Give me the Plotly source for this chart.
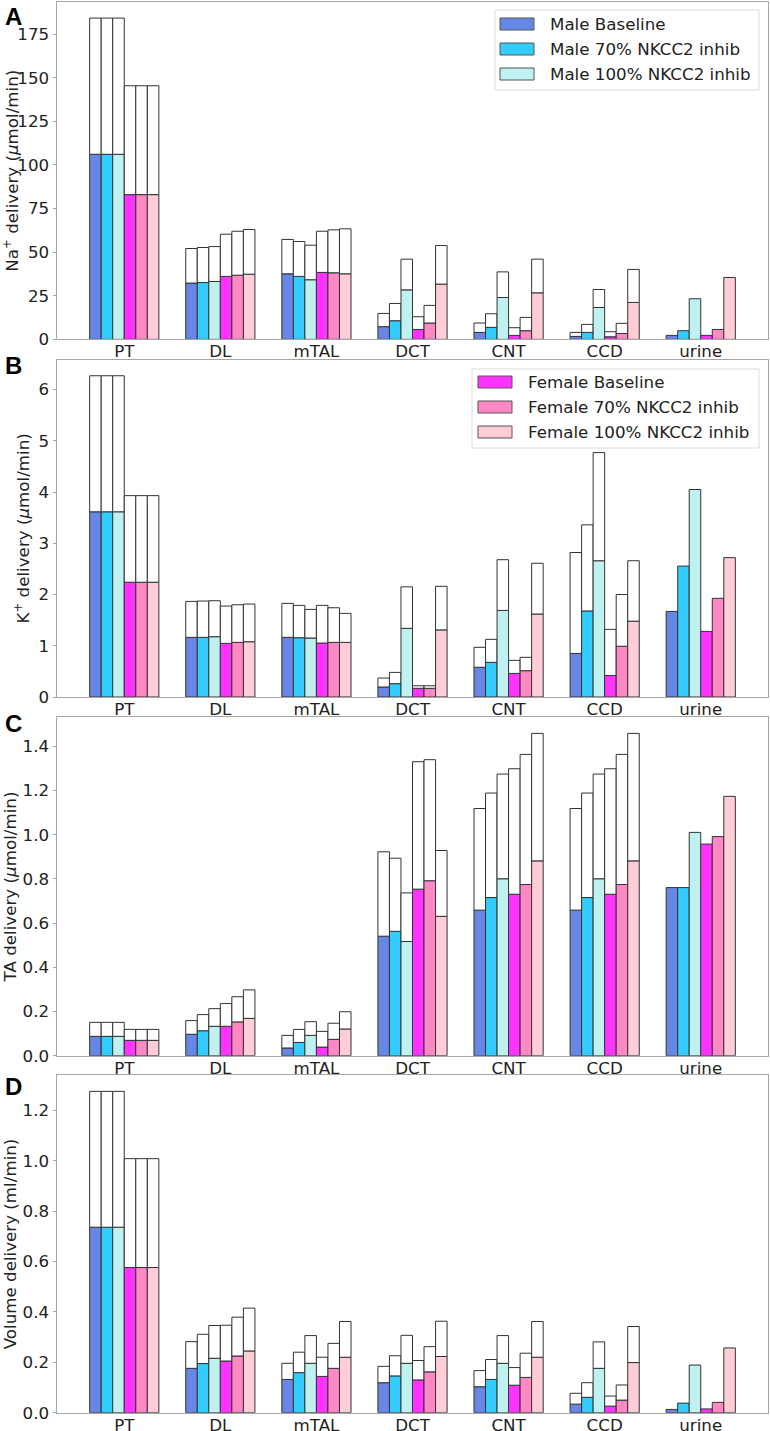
import plotly.graph_objects as go

segments = ["PT", "DL", "mTAL", "DCT", "CNT", "CCD", "urine"]
conditions = ["Male Baseline", "Male 70% NKCC2 inhib", "Male 100% NKCC2 inhib",
              "Female Baseline", "Female 70% NKCC2 inhib", "Female 100% NKCC2 inhib"]
colors = ["#6787E7", "#33CCFF", "#BFF1F1", "#FF33FF", "#FF87C3", "#FFCDD5"]

# Panel A: Na+ delivery (colored part, and total bar height)
na_part = [
    [106.1, 32.3, 37.6, 7.3, 4.0, 1.7, 2.3],
    [106.1, 32.6, 36.1, 10.7, 6.9, 4.0, 5.0],
    [106.1, 33.2, 34.2, 28.4, 24.0, 18.3, 23.3],
    [83.0, 36.1, 38.4, 5.7, 2.3, 1.5, 2.3],
    [83.0, 36.8, 38.2, 9.4, 5.0, 3.4, 5.7],
    [83.0, 37.4, 37.6, 31.7, 26.7, 21.2, 35.5],
]
na_total = [
    [184.2, 52.1, 57.3, 14.9, 9.4, 4.0, 2.3],
    [184.2, 52.7, 56.1, 20.6, 14.7, 8.6, 5.0],
    [184.2, 53.2, 54.0, 46.0, 38.7, 28.6, 23.3],
    [145.4, 60.3, 62.0, 13.0, 6.7, 4.4, 2.3],
    [145.4, 62.0, 62.8, 19.5, 12.6, 9.2, 5.7],
    [145.4, 63.0, 63.4, 53.8, 46.0, 40.1, 35.5],
]
# Panel B: K+ delivery
k_part = [
    [3.615, 1.164, 1.164, 0.195, 0.58, 0.85, 1.67],
    [3.615, 1.164, 1.157, 0.26, 0.676, 1.68, 2.555],
    [3.615, 1.177, 1.151, 1.34, 1.69, 2.66, 4.05],
    [2.24, 1.047, 1.053, 0.17, 0.46, 0.42, 1.28],
    [2.24, 1.066, 1.066, 0.17, 0.514, 0.99, 1.925],
    [2.24, 1.079, 1.066, 1.31, 1.62, 1.48, 2.72],
]
k_total = [
    [6.27, 1.866, 1.827, 0.37, 0.97, 2.82, 1.67],
    [6.27, 1.873, 1.788, 0.48, 1.125, 3.36, 2.555],
    [6.27, 1.879, 1.71, 2.15, 2.68, 4.77, 4.05],
    [3.93, 1.775, 1.788, 0.22, 0.715, 1.32, 1.28],
    [3.93, 1.80, 1.742, 0.22, 0.774, 2.00, 1.925],
    [3.93, 1.814, 1.632, 2.16, 2.61, 2.66, 2.72],
]
# Panel C: TA delivery
ta_part = [
    [0.0876, 0.097, 0.035, 0.541, 0.659, 0.659, 0.761],
    [0.0876, 0.113, 0.060, 0.563, 0.716, 0.716, 0.761],
    [0.0876, 0.133, 0.092, 0.517, 0.801, 0.801, 1.011],
    [0.0695, 0.133, 0.039, 0.754, 0.731, 0.731, 0.958],
    [0.0695, 0.153, 0.074, 0.792, 0.775, 0.775, 0.992],
    [0.0695, 0.169, 0.121, 0.631, 0.882, 0.882, 1.174],
]
ta_total = [
    [0.151, 0.159, 0.092, 0.923, 1.119, 1.119, 0.761],
    [0.151, 0.186, 0.119, 0.894, 1.189, 1.189, 0.761],
    [0.151, 0.213, 0.154, 0.737, 1.275, 1.275, 1.011],
    [0.119, 0.236, 0.110, 1.331, 1.299, 1.299, 0.958],
    [0.119, 0.267, 0.147, 1.340, 1.364, 1.364, 0.992],
    [0.119, 0.298, 0.199, 0.929, 1.459, 1.459, 1.174],
]
# Panel D: Volume delivery
vol_part = [
    [0.736, 0.176, 0.132, 0.119, 0.103, 0.034, 0.013],
    [0.736, 0.195, 0.159, 0.146, 0.132, 0.061, 0.038],
    [0.736, 0.216, 0.196, 0.196, 0.196, 0.176, 0.189],
    [0.576, 0.205, 0.144, 0.130, 0.109, 0.026, 0.015],
    [0.576, 0.225, 0.176, 0.162, 0.140, 0.050, 0.041],
    [0.576, 0.245, 0.220, 0.223, 0.220, 0.199, 0.257],
]
vol_total = [
    [1.275, 0.282, 0.196, 0.184, 0.167, 0.077, 0.013],
    [1.275, 0.311, 0.240, 0.226, 0.211, 0.119, 0.038],
    [1.275, 0.346, 0.306, 0.307, 0.306, 0.281, 0.189],
    [1.008, 0.347, 0.220, 0.207, 0.179, 0.066, 0.015],
    [1.008, 0.379, 0.275, 0.262, 0.236, 0.110, 0.041],
    [1.008, 0.415, 0.362, 0.363, 0.362, 0.342, 0.257],
]

panels = [
    dict(part=na_part, total=na_total, letter="A",
         title="Na<sup>+</sup> delivery (<i>μ</i>mol/min)", dtick=25, fmt="d"),
    dict(part=k_part, total=k_total, letter="B",
         title="K<sup>+</sup> delivery (<i>μ</i>mol/min)", dtick=1, fmt="d"),
    dict(part=ta_part, total=ta_total, letter="C",
         title="TA delivery (<i>μ</i>mol/min)", dtick=0.2, fmt=".1f"),
    dict(part=vol_part, total=vol_total, letter="D",
         title="Volume delivery (ml/min)", dtick=0.2, fmt=".1f"),
]

W, H = 770, 1431
ML, MR, MT, MB = 57, 2, 2, 18
plot_w = W - ML - MR
plot_h = H - MT - MB
# panel pixel extents (top, bottom) from top of image
extents = [(1.7, 339.4), (359.7, 697.0), (717.3, 1055.7), (1075.3, 1412.7)]
letter_tops = [7.0, 355.7, 713.0, 1076.0]


def px_x(v):
    return (v - ML) / plot_w


def px_y(v):
    return (H - MB - v) / plot_h


FONT = "DejaVu Sans"
FS = 16.7
edge = "#333333"
bw = 0.12

fig = go.Figure()
layout = {}
annotations = []
shapes = []
for p, panel in enumerate(panels):
    suffix = "" if p == 0 else str(p + 1)
    xa, ya = "x" + suffix, "y" + suffix
    for i in range(6):
        off = -3 * bw + i * bw
        part = panel["part"][i]
        tot = panel["total"][i]
        upper = [(t - c) if (t - c) > 1e-9 else None for t, c in zip(tot, part)]
        fig.add_trace(go.Bar(
            x=segments, y=part, width=bw, offset=off,
            marker=dict(color=colors[i], line=dict(color=edge, width=1)),
            name=conditions[i], showlegend=False,
            xaxis=xa, yaxis=ya))
        fig.add_trace(go.Bar(
            x=segments, y=upper, base=part, width=bw, offset=off,
            marker=dict(color="white", line=dict(color=edge, width=1)),
            showlegend=False, xaxis=xa, yaxis=ya))
    top, bot = extents[p]
    d0 = px_y(bot)
    d1 = min(1.0, px_y(top))
    ymax = max(max(r) for r in panel["total"]) * 1.05
    axis_common = dict(showline=True, mirror=True, linecolor="#a6a6a6", linewidth=1,
                       showgrid=False, zeroline=False,
                       tickfont=dict(family=FONT, size=FS, color="#222"))
    layout["xaxis" + suffix] = dict(axis_common, domain=[0, 1], anchor=ya,
                                    type="category", range=[-0.70, 6.70], ticks="",
                                    ticklabelstandoff=-3,
                                    categoryorder="array", categoryarray=segments)
    layout["yaxis" + suffix] = dict(axis_common, domain=[d0, d1], anchor=xa,
                                    range=[0, ymax], dtick=panel["dtick"], tick0=0,
                                    ticks="outside", ticklen=3.5, tickcolor="#a6a6a6",
                                    tickformat=panel["fmt"], automargin=False,
                                    title=dict(text=panel["title"], standoff=4,
                                               font=dict(family=FONT, size=FS, color="#222")))
    annotations.append(dict(text="<b>%s</b>" % panel["letter"], xref="paper", yref="paper",
                            x=px_x(3), y=px_y(letter_tops[p] - 5.5),
                            xanchor="left", yanchor="top", showarrow=False,
                            font=dict(family="Liberation Sans", size=24, color="black")))

# custom legends drawn as boxes, colour patches and text (matplotlib style)
legend_specs = [
    dict(box=(495, 10, 759, 90), patch_x=(500, 534), text_x=548, rows=(24, 49, 74), idx=(0, 1, 2)),
    dict(box=(472, 369, 759, 448), patch_x=(478, 512), text_x=526, rows=(382, 407, 432), idx=(3, 4, 5)),
]
for spec in legend_specs:
    x0, y0, x1, y1 = spec["box"]
    shapes.append(dict(type="rect", xref="paper", yref="paper",
                       x0=px_x(x0), x1=px_x(x1), y0=px_y(y1), y1=px_y(y0),
                       line=dict(color="#dcdcdc", width=1), fillcolor="rgba(255,255,255,0.85)",
                       layer="above"))
    for ry, ci in zip(spec["rows"], spec["idx"]):
        shapes.append(dict(type="rect", xref="paper", yref="paper",
                           x0=px_x(spec["patch_x"][0]), x1=px_x(spec["patch_x"][1]),
                           y0=px_y(ry + 6), y1=px_y(ry - 6),
                           line=dict(color="#555555", width=1), fillcolor=colors[ci],
                           layer="above"))
        annotations.append(dict(text=conditions[ci], xref="paper", yref="paper",
                                x=px_x(spec["text_x"]), y=px_y(ry), xanchor="left",
                                yanchor="middle", showarrow=False,
                                font=dict(family=FONT, size=FS, color="#222")))

fig.update_layout(
    width=W, height=H,
    margin=dict(l=ML, r=MR, t=MT, b=MB, autoexpand=False),
    paper_bgcolor="white", plot_bgcolor="white",
    barmode="overlay", showlegend=False,
    annotations=annotations, shapes=shapes,
    font=dict(family=FONT, size=FS, color="#222"),
    **layout,
)

fig.write_html("out.html", config={"displayModeBar": False},
               post_script="document.body.style.margin='0px';"
                           "document.body.style.overflow='hidden';")
